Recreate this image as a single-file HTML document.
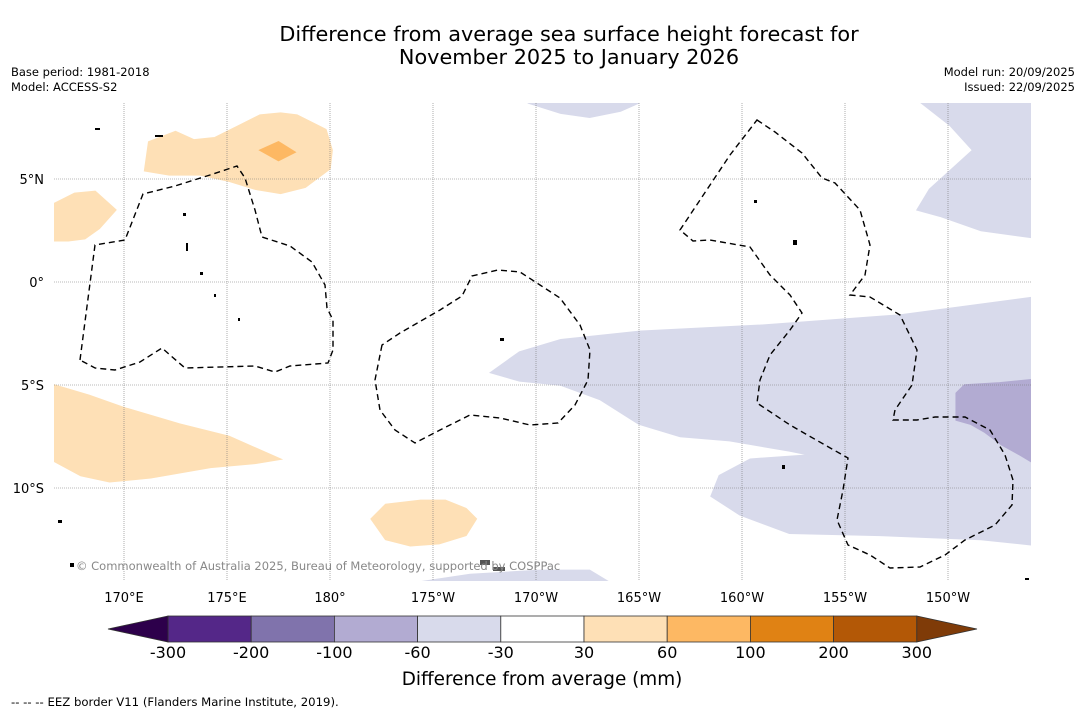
<!DOCTYPE html>
<html><head><meta charset="utf-8"><style>
body{margin:0;background:#fff;font-family:"Liberation Sans","DejaVu Sans",sans-serif;}
svg{display:block}
</style></head><body>
<svg id="c" width="1085" height="713" xmlns="http://www.w3.org/2000/svg">
<text x="569" y="41" font-size="20.8" text-anchor="middle" font-family="DejaVu Sans,sans-serif">Difference from average sea surface height forecast for</text>
<text x="569" y="64" font-size="20.8" text-anchor="middle" font-family="DejaVu Sans,sans-serif">November 2025 to January 2026</text>
<text x="11" y="76" font-size="11.5" font-family="DejaVu Sans,sans-serif">Base period: 1981-2018</text>
<text x="11" y="91" font-size="11.5" font-family="DejaVu Sans,sans-serif">Model: ACCESS-S2</text>
<text x="1075" y="76" font-size="11.5" text-anchor="end" font-family="DejaVu Sans,sans-serif">Model run: 20/09/2025</text>
<text x="1075" y="91" font-size="11.5" text-anchor="end" font-family="DejaVu Sans,sans-serif">Issued: 22/09/2025</text>
<defs><clipPath id="mapclip"><rect x="54" y="103" width="977" height="478"/></clipPath></defs>
<g id="map" clip-path="url(#mapclip)"></g>
<g id="grid"></g>
<path clip-path="url(#mapclip)" fill="none" stroke="#000" stroke-width="1.4" stroke-dasharray="6,4" d="M80,360 L95,245 L125,240 L143,194 L175,186 L210,175 L237,166 L245,178 L255,210 L262,237 L290,246 L312,262 L325,285 L327,308 L333,320 L333,350 L328,363 L290,366 L275,372 L255,366 L185,368 L178,362 L162,348 L140,362 L115,370 L95,368 Z"/>
<path clip-path="url(#mapclip)" fill="none" stroke="#000" stroke-width="1.4" stroke-dasharray="6,4" d="M382,345 L375,380 L380,410 L395,430 L415,443 L440,430 L470,415 L500,418 L530,425 L558,423 L575,405 L588,380 L590,350 L580,325 L560,298 L540,285 L520,272 L498,270 L472,276 L462,296 L440,310 L400,333 Z"/>
<path clip-path="url(#mapclip)" fill="none" stroke="#000" stroke-width="1.4" stroke-dasharray="6,4" d="M757,120 L775,132 L802,153 L822,178 L835,183 L860,210 L870,245 L865,275 L850,295 L870,297 L900,315 L917,350 L912,385 L895,410 L893,420 L917,420 L935,417 L965,417 L990,430 L1005,455 L1013,480 L1012,505 L995,525 L965,540 L945,555 L920,567 L890,568 L870,555 L848,545 L837,520 L843,490 L848,458 L825,445 L790,425 L757,403 L760,380 L770,355 L790,330 L802,313 L790,295 L770,275 L750,247 L710,240 L693,241 L680,230 L700,200 L730,155 Z"/>
<g id="islands" fill="#000">
<rect x="183" y="213" width="3" height="3"/><rect x="186" y="243" width="2" height="8"/><rect x="200" y="272" width="3" height="3"/><rect x="214" y="294" width="2" height="3"/><rect x="238" y="318" width="2" height="3"/><rect x="500" y="338" width="4" height="3"/><rect x="754" y="200" width="3" height="3"/><rect x="793" y="240" width="4" height="5"/><rect x="782" y="465" width="3" height="4"/><rect x="58" y="520" width="4" height="3"/><rect x="70" y="563" width="4" height="4"/><rect x="480" y="560" width="10" height="5" fill="#555"/><rect x="493" y="567" width="12" height="4" fill="#555"/><rect x="155" y="135" width="8" height="2"/><rect x="95" y="128" width="5" height="2"/><rect x="1025" y="578" width="4" height="2"/>
</g>
<text x="76" y="570" font-size="11.5" fill="#888" font-family="DejaVu Sans,sans-serif">© Commonwealth of Australia 2025, Bureau of Meteorology, supported by COSPPac</text>
<g id="cbar"></g>
<text x="542" y="685" font-size="18.4" text-anchor="middle" font-family="DejaVu Sans,sans-serif">Difference from average (mm)</text>
<text x="11" y="706" font-size="11.7" font-family="DejaVu Sans,sans-serif">--  --  -- EEZ border V11 (Flanders Marine Institute, 2019).</text>
</svg>
<script>
const NS="http://www.w3.org/2000/svg";
const lonTicks=[170,175,180,185,190,195,200,205,210];
const lonLabels=["170°E","175°E","180°","175°W","170°W","165°W","160°W","155°W","150°W"];
const latTicks=[5,0,-5,-10];
const latLabels=["5°N","0°","5°S","10°S"];
const levels=[-300,-200,-100,-60,-30,30,60,100,200,300];
const levelColors=["#542788","#8073ac","#b2abd2","#d8daeb","#ffffff","#fee0b6","#fdb863","#e08214","#b35806"];
const extendColors=["#2d004b","#7f3b08"];
const shapeNames=["orange-north","orange-north-core","orange-west","orange-southwest","orange-south","purple-east-band","purple-east-core","purple-northeast","purple-north","purple-south"];
const shapeLevels=[30,60,30,30,30,-60,-100,-60,-60,-60];
const shapeLons=[
[171.0,171.2,172.5,173.4,174.4,175.4,176.6,177.6,178.4,179.8,180.1,180.0,178.8,177.6,176.4,175.1,173.7,172.2],
[176.6,177.5,178.3,177.5],
[166.6,167.6,168.6,169.6,168.8,168.1,167.3,166.6],
[166.6,168.3,170.0,172.7,175.1,177.6,176.4,174.2,171.3,169.3,167.9,166.6],
[182.0,182.7,184.4,185.6,186.6,187.1,186.6,185.3,183.9,182.7],
[187.8,189.2,191.2,195.0,200.9,207.7,214.5,214.5,211.6,206.7,202.3,199.9,198.5,198.9,200.4,203.3,202.3,199.4,197.0,195.0,193.1,191.2,189.2],
[210.4,210.8,212.5,214.5,214.5,213.5,212.6,211.8,211.1,210.4],
[208.7,214.5,214.5,211.6,209.6,208.5,209.1,211.2,210.1],
[189.6,195.0,194.1,192.6,191.2],
[184.1,186.8,190.2,192.6,193.6]];
const shapeLats=[
[5.4,6.8,7.3,6.9,7.0,7.5,8.1,8.2,8.1,7.4,6.4,5.5,4.6,4.3,4.5,4.9,5.2,5.2],
[6.4,6.8,6.3,5.9],
[3.8,4.3,4.4,3.5,2.6,2.1,2.0,2.0],
[-5.0,-5.5,-6.1,-6.9,-7.5,-8.6,-8.8,-9.0,-9.5,-9.7,-9.4,-8.7],
[-11.5,-10.8,-10.6,-10.6,-11.0,-11.5,-12.3,-12.7,-12.8,-12.5],
[-4.4,-3.4,-2.8,-2.4,-2.1,-1.6,-0.7,-12.8,-12.5,-12.3,-12.2,-11.3,-10.4,-9.4,-8.6,-8.4,-8.2,-7.7,-7.5,-6.9,-5.7,-5.0,-4.8],
[-5.4,-5.0,-4.9,-4.7,-9.0,-8.4,-7.9,-7.3,-6.9,-6.7],
[8.7,8.7,2.1,2.5,3.2,3.5,4.5,6.4,7.6],
[8.7,8.7,8.3,8.0,8.2],
[-14.6,-14.2,-14.0,-14.0,-14.6]];
function X(lon){return 124+(lon-170)*20.6;}
function Y(lat){return 282-lat*20.6;}
function colorFor(v){for(let i=0;i<levels.length-1;i++){if(v>=levels[i]&&v<levels[i+1])return levelColors[i];}return v<levels[0]?extendColors[0]:extendColors[1];}
const map=document.getElementById('map');
const bg=document.createElementNS(NS,'rect');
bg.setAttribute('x',54);bg.setAttribute('y',103);bg.setAttribute('width',977);bg.setAttribute('height',478);bg.setAttribute('fill','#fff');


map.appendChild(bg);
shapeLons.forEach((lons,i)=>{
  const p=document.createElementNS(NS,'polygon');
  p.setAttribute('points',lons.map((l,j)=>X(l).toFixed(1)+','+Y(shapeLats[i][j]).toFixed(1)).join(' '));
  const c=colorFor(shapeLevels[i]);
  p.setAttribute('fill',c);p.setAttribute('stroke',c);p.setAttribute('stroke-width','1.5');
  
  
  map.appendChild(p);
});
const grid=document.getElementById('grid');
lonTicks.forEach((lon,i)=>{
  const l=document.createElementNS(NS,'line');
  l.setAttribute('x1',X(lon));l.setAttribute('x2',X(lon));l.setAttribute('y1',103);l.setAttribute('y2',581);
  l.setAttribute('stroke','#777');l.setAttribute('stroke-width','0.6');l.setAttribute('stroke-dasharray','1,1');
  
  
  grid.appendChild(l);
  const t=document.createElementNS(NS,'text');
  t.setAttribute('x',X(lon));t.setAttribute('y',602);t.setAttribute('font-size','13');t.setAttribute('text-anchor','middle');
  t.setAttribute('font-family','DejaVu Sans,sans-serif');
  t.textContent=lonLabels[i];
  
  
  grid.appendChild(t);
});
latTicks.forEach((lat,i)=>{
  const l=document.createElementNS(NS,'line');
  l.setAttribute('x1',54);l.setAttribute('x2',1031);l.setAttribute('y1',Y(lat));l.setAttribute('y2',Y(lat));
  l.setAttribute('stroke','#777');l.setAttribute('stroke-width','0.6');l.setAttribute('stroke-dasharray','1,1');
  
  
  grid.appendChild(l);
  const t=document.createElementNS(NS,'text');
  t.setAttribute('x',44);t.setAttribute('y',Y(lat)+5);t.setAttribute('font-size','13');t.setAttribute('text-anchor','end');
  t.setAttribute('font-family','DejaVu Sans,sans-serif');
  t.textContent=latLabels[i];
  
  
  grid.appendChild(t);
});
const cb=document.getElementById('cbar');
const x0=168,w=83.2,y0=616,h=26;
levelColors.forEach((c,i)=>{
  const r=document.createElementNS(NS,'rect');
  r.setAttribute('x',x0+i*w);r.setAttribute('y',y0);r.setAttribute('width',w);r.setAttribute('height',h);
  r.setAttribute('fill',c);r.setAttribute('stroke','#333');r.setAttribute('stroke-width','0.8');
  
  
  cb.appendChild(r);
});
const xe=x0+levelColors.length*w;
const t1=document.createElementNS(NS,'polygon');
t1.setAttribute('points',`${x0},${y0} 108,${y0+h/2} ${x0},${y0+h}`);t1.setAttribute('fill',extendColors[0]);t1.setAttribute('stroke','#333');t1.setAttribute('stroke-width','0.8');


cb.appendChild(t1);
const t2=document.createElementNS(NS,'polygon');
t2.setAttribute('points',`${xe},${y0} 977,${y0+h/2} ${xe},${y0+h}`);t2.setAttribute('fill',extendColors[1]);t2.setAttribute('stroke','#333');t2.setAttribute('stroke-width','0.8');


cb.appendChild(t2);
levels.forEach((v,i)=>{
  const t=document.createElementNS(NS,'text');
  t.setAttribute('x',x0+i*w);t.setAttribute('y',658);t.setAttribute('font-size','16');t.setAttribute('text-anchor','middle');
  t.setAttribute('font-family','DejaVu Sans,sans-serif');
  t.textContent=String(v);
  
  
  cb.appendChild(t);
});
</script>
</body></html>
